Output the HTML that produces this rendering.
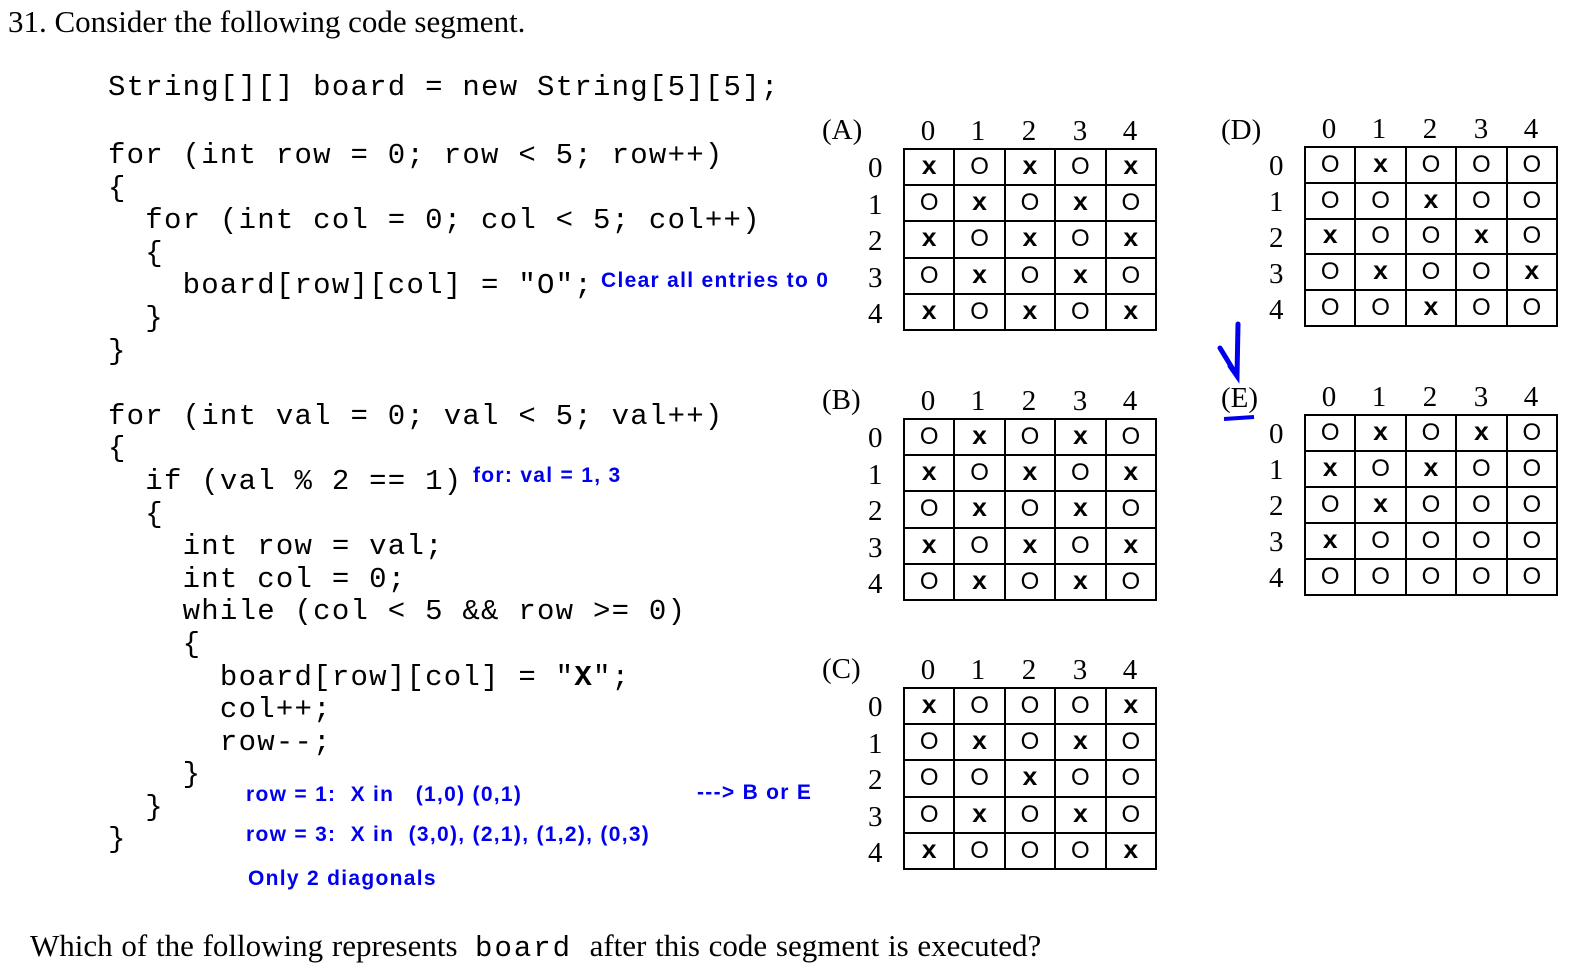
<!DOCTYPE html>
<html><head><meta charset="utf-8"><style>
body{margin:0;width:1574px;height:980px;background:#fff;position:relative;overflow:hidden;font-family:"Liberation Serif",serif;color:#000}
.a{position:absolute;white-space:pre}
.c{font-family:"Liberation Mono",monospace;font-size:29px;letter-spacing:1.25px;line-height:32.6px}
.b{font-family:"Liberation Sans",sans-serif;font-weight:bold;color:#0000ee;font-size:21px;letter-spacing:1.3px}
.s{font-size:31px}
table{position:absolute;border-collapse:collapse;border:2px solid #000;width:254px;height:183px;table-layout:fixed}
td{border:2px solid #000;padding:0;text-align:center;font-family:"Liberation Sans",sans-serif;font-size:24px;line-height:20px}
td.x{font-family:"Liberation Mono",monospace;font-weight:bold;font-size:26px}
.h{position:absolute;font-size:29px;line-height:30px}
.n{position:absolute;width:30px;text-align:center;font-size:29px;line-height:30px}
</style></head><body>
<div class="a s" style="left:8px;top:4px">31. Consider the following code segment.</div>

<div class="a c" style="left:108px;top:72px">String[][] board = new String[5][5];</div>
<div class="a c" style="left:108px;top:140px">for (int row = 0; row &lt; 5; row++)
{
  for (int col = 0; col &lt; 5; col++)
  {
    board[row][col] = "O";
  }
}

for (int val = 0; val &lt; 5; val++)
{
  if (val % 2 == 1)
  {
    int row = val;
    int col = 0;
    while (col &lt; 5 &amp;&amp; row &gt;= 0)
    {
      board[row][col] = "<b>X</b>";
      col++;
      row--;
    }
  }
}</div>
<div class="a b" style="left:601px;top:269px">Clear all entries to 0</div>
<div class="a b" style="left:473px;top:464px">for: val = 1, 3</div>
<div class="a b" style="left:246px;top:783px">row = 1:  X in   (1,0) (0,1)</div>
<div class="a b" style="left:697px;top:781px">---&gt; B or E</div>
<div class="a b" style="left:246px;top:823px">row = 3:  X in  (3,0), (2,1), (1,2), (0,3)</div>
<div class="a b" style="left:248px;top:867px">Only 2 diagonals</div>
<div class="a s" style="left:30px;top:928px;word-spacing:1px">Which of the following represents  <span style="font-family:'Liberation Mono',monospace;font-size:29px;letter-spacing:2px">board</span>  after this code segment is executed?</div>

<!-- A -->
<div class="h" style="left:822px;top:115px">(A)</div>
<div class="n" style="left:913px;top:116px">0</div><div class="n" style="left:963px;top:116px">1</div><div class="n" style="left:1014px;top:116px">2</div><div class="n" style="left:1065px;top:116px">3</div><div class="n" style="left:1115px;top:116px">4</div>
<div class="h" style="left:868px;top:150px;line-height:36.6px">0<br>1<br>2<br>3<br>4</div>
<table style="left:903px;top:148px"><tr><td class="x">x</td><td>O</td><td class="x">x</td><td>O</td><td class="x">x</td></tr><tr><td>O</td><td class="x">x</td><td>O</td><td class="x">x</td><td>O</td></tr><tr><td class="x">x</td><td>O</td><td class="x">x</td><td>O</td><td class="x">x</td></tr><tr><td>O</td><td class="x">x</td><td>O</td><td class="x">x</td><td>O</td></tr><tr><td class="x">x</td><td>O</td><td class="x">x</td><td>O</td><td class="x">x</td></tr></table>

<!-- B -->
<div class="h" style="left:822px;top:385px">(B)</div>
<div class="n" style="left:913px;top:386px">0</div><div class="n" style="left:963px;top:386px">1</div><div class="n" style="left:1014px;top:386px">2</div><div class="n" style="left:1065px;top:386px">3</div><div class="n" style="left:1115px;top:386px">4</div>
<div class="h" style="left:868px;top:420px;line-height:36.6px">0<br>1<br>2<br>3<br>4</div>
<table style="left:903px;top:418px"><tr><td>O</td><td class="x">x</td><td>O</td><td class="x">x</td><td>O</td></tr><tr><td class="x">x</td><td>O</td><td class="x">x</td><td>O</td><td class="x">x</td></tr><tr><td>O</td><td class="x">x</td><td>O</td><td class="x">x</td><td>O</td></tr><tr><td class="x">x</td><td>O</td><td class="x">x</td><td>O</td><td class="x">x</td></tr><tr><td>O</td><td class="x">x</td><td>O</td><td class="x">x</td><td>O</td></tr></table>

<!-- C -->
<div class="h" style="left:822px;top:654px">(C)</div>
<div class="n" style="left:913px;top:655px">0</div><div class="n" style="left:963px;top:655px">1</div><div class="n" style="left:1014px;top:655px">2</div><div class="n" style="left:1065px;top:655px">3</div><div class="n" style="left:1115px;top:655px">4</div>
<div class="h" style="left:868px;top:689px;line-height:36.6px">0<br>1<br>2<br>3<br>4</div>
<table style="left:903px;top:687px"><tr><td class="x">x</td><td>O</td><td>O</td><td>O</td><td class="x">x</td></tr><tr><td>O</td><td class="x">x</td><td>O</td><td class="x">x</td><td>O</td></tr><tr><td>O</td><td>O</td><td class="x">x</td><td>O</td><td>O</td></tr><tr><td>O</td><td class="x">x</td><td>O</td><td class="x">x</td><td>O</td></tr><tr><td class="x">x</td><td>O</td><td>O</td><td>O</td><td class="x">x</td></tr></table>

<!-- D -->
<div class="h" style="left:1221px;top:115px">(D)</div>
<div class="n" style="left:1314px;top:114px">0</div><div class="n" style="left:1364px;top:114px">1</div><div class="n" style="left:1415px;top:114px">2</div><div class="n" style="left:1466px;top:114px">3</div><div class="n" style="left:1516px;top:114px">4</div>
<div class="h" style="left:1269px;top:148px;line-height:36px">0<br>1<br>2<br>3<br>4</div>
<table style="left:1304px;top:146px;height:181px"><tr><td>O</td><td class="x">x</td><td>O</td><td>O</td><td>O</td></tr><tr><td>O</td><td>O</td><td class="x">x</td><td>O</td><td>O</td></tr><tr><td class="x">x</td><td>O</td><td>O</td><td class="x">x</td><td>O</td></tr><tr><td>O</td><td class="x">x</td><td>O</td><td>O</td><td class="x">x</td></tr><tr><td>O</td><td>O</td><td class="x">x</td><td>O</td><td>O</td></tr></table>

<!-- E -->
<svg style="position:absolute;left:1210px;top:318px" width="60" height="110"><path d="M28 6 L27 58 L20 48 M27 58 L10 30" stroke="#0000ee" stroke-width="5" fill="none" stroke-linecap="round"/><path d="M14 101 L44 99" stroke="#0000ee" stroke-width="4"/></svg>
<div class="h" style="left:1221px;top:383px">(E)</div>
<div class="n" style="left:1314px;top:382px">0</div><div class="n" style="left:1364px;top:382px">1</div><div class="n" style="left:1415px;top:382px">2</div><div class="n" style="left:1466px;top:382px">3</div><div class="n" style="left:1516px;top:382px">4</div>
<div class="h" style="left:1269px;top:416px;line-height:36px">0<br>1<br>2<br>3<br>4</div>
<table style="left:1304px;top:414px;height:182px"><tr><td>O</td><td class="x">x</td><td>O</td><td class="x">x</td><td>O</td></tr><tr><td class="x">x</td><td>O</td><td class="x">x</td><td>O</td><td>O</td></tr><tr><td>O</td><td class="x">x</td><td>O</td><td>O</td><td>O</td></tr><tr><td class="x">x</td><td>O</td><td>O</td><td>O</td><td>O</td></tr><tr><td>O</td><td>O</td><td>O</td><td>O</td><td>O</td></tr></table>
</body></html>
